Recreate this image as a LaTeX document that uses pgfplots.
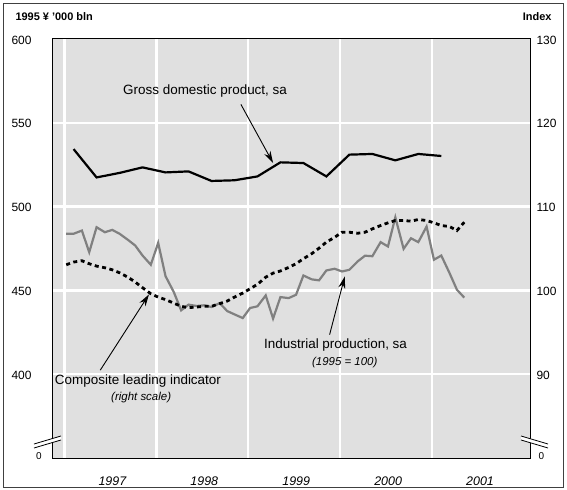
\documentclass[border=0pt]{standalone}
\usepackage{pgfplots}
\pgfplotsset{compat=1.18}
\usepackage{pgfplotstable}
\usetikzlibrary{arrows.meta}
\usepackage{fontspec}
\setmainfont{Liberation Sans}

\definecolor{bg}{RGB}{224,224,224}
\definecolor{ipgray}{RGB}{128,128,128}

% GDP, quarterly, 1995 yen '000 bln
\pgfplotstableread{
x y
1997.10 534.3
1997.35 517.4
1997.60 520.1
1997.85 523.4
1998.10 520.4
1998.35 521.0
1998.60 515.3
1998.85 515.7
1999.10 518.0
1999.35 526.4
1999.60 526.0
1999.85 518.0
2000.10 531.0
2000.35 531.4
2000.60 527.6
2000.85 531.4
2001.10 530.2
}\gdp

% industrial production, monthly (left scale units)
\pgfplotstableread{
x y
1997.02 483.8
1997.10 483.8
1997.19 485.7
1997.27 472.8
1997.35 487.7
1997.44 484.7
1997.52 486.1
1997.60 483.8
1997.69 480.2
1997.77 476.8
1997.85 470.8
1997.94 465.3
1998.02 478.4
1998.10 458.5
1998.19 449.0
1998.27 438.1
1998.35 441.5
1998.44 440.7
1998.52 441.1
1998.60 440.1
1998.69 442.4
1998.77 437.7
1998.85 435.7
1998.94 433.5
1999.02 439.5
1999.10 440.5
1999.19 447.0
1999.27 433.2
1999.35 446.0
1999.44 445.4
1999.52 447.4
1999.60 458.9
1999.69 456.6
1999.77 456.0
1999.85 461.9
1999.94 462.9
2000.02 461.3
2000.10 462.3
2000.19 467.3
2000.27 470.7
2000.35 470.4
2000.44 478.8
2000.52 476.2
2000.60 493.6
2000.69 474.8
2000.77 481.1
2000.85 478.8
2000.94 488.1
2001.02 468.3
2001.10 470.8
2001.19 460.3
2001.27 450.4
2001.35 445.7
}\ip

% composite leading indicator, index (right scale)
\pgfplotstableread{
x y
1997.02 103.06
1997.10 103.38
1997.19 103.54
1997.27 103.18
1997.35 102.90
1997.44 102.70
1997.52 102.46
1997.60 102.10
1997.69 101.58
1997.77 101.00
1997.85 100.32
1997.94 99.60
1998.02 99.20
1998.10 98.90
1998.19 98.48
1998.27 98.10
1998.35 97.94
1998.44 98.02
1998.52 98.10
1998.60 98.10
1998.69 98.42
1998.77 98.72
1998.85 99.20
1998.94 99.68
1999.02 100.20
1999.10 100.72
1999.19 101.58
1999.27 102.06
1999.35 102.32
1999.44 102.74
1999.52 103.18
1999.60 103.78
1999.69 104.38
1999.77 105.04
1999.85 105.76
1999.94 106.34
2000.02 106.94
2000.10 106.94
2000.19 106.82
2000.27 106.94
2000.35 107.34
2000.44 107.74
2000.52 108.06
2000.60 108.34
2000.69 108.34
2000.77 108.26
2000.85 108.46
2000.94 108.34
2001.02 108.06
2001.10 107.74
2001.19 107.62
2001.27 107.14
2001.35 108.14
}\cli

\begin{document}
\begin{tikzpicture}[font=\fontsize{12}{14}\selectfont]
\path (-52bp,-32bp) rectangle (515bp,458bp);
\draw[line width=0.8bp, black!75] (-49bp,-29bp) rectangle (511bp,455bp);

\begin{axis}[
  at={(0,0)}, anchor=south west,
  width=478bp, height=419bp, scale only axis,
  xmin=1996.865, xmax=2002.065, ymin=350, ymax=600,
  axis background/.style={fill=bg},
  axis line style={line width=1bp},
  xtick={1997,...,2001}, xticklabels={},
  extra x ticks={1997.5,1998.5,1999.5,2000.5,2001.5},
  extra x tick labels={1997,1998,1999,2000,2001},
  extra x tick style={grid=none, xticklabel style={font=\fontsize{12.5}{14}\selectfont\itshape, yshift=-15bp, xshift=2bp}},
  ytick={400,450,500,550},
  extra y ticks={600}, extra y tick style={grid=none},
  xmajorgrids, ymajorgrids,
  grid style={white, line width=2.4bp},
  major tick length=0pt,
  yticklabel style={anchor=west, xshift=-44bp, yshift=-1bp},
  /pgf/number format/assume math mode=true,
]
\addplot[black, line width=2.2bp] table {\gdp};
\addplot[ipgray, line width=2.2bp] table {\ip};

\begin{scope}[font=\fontsize{13.5}{15}\selectfont]
\node at (axis cs:1998.53,569) {Gross domestic product, sa};
\draw[line width=0.9bp, -{Stealth[length=12bp,width=7bp]}] (axis cs:1998.92,561) -- (axis cs:1999.27,526);

\node at (axis cs:1997.80,396) {Composite leading indicator};
\node[font=\fontsize{11.5}{13}\selectfont\itshape] at (axis cs:1997.835,386) {(right scale)};
\draw[line width=0.9bp, -{Stealth[length=12bp,width=7bp]}] (axis cs:1997.39,402.4) -- (axis cs:1997.92,447.6);

\node at (axis cs:1999.95,417.5) {Industrial production, sa};
\node[font=\fontsize{11.5}{13}\selectfont\itshape] at (axis cs:2000.05,406.7) {(1995 = 100)};
\draw[line width=0.9bp, -{Stealth[length=12bp,width=7bp]}] (axis cs:1999.885,423.6) -- (axis cs:2000.05,458.3);
\end{scope}
\end{axis}

\begin{axis}[
  at={(0,0)}, anchor=south west,
  width=478bp, height=419bp, scale only axis,
  xmin=1996.865, xmax=2002.065, ymin=80, ymax=130,
  axis y line*=right, axis x line=none,
  axis line style={line width=1bp},
  ytick={90,100,110,120,130},
  major tick length=0pt,
  yticklabel style={anchor=west, xshift=3bp, yshift=-1bp},
  /pgf/number format/assume math mode=true,
]
\addplot[black, line width=2.8bp, dash pattern=on 4bp off 3.5bp] table {\cli};
\end{axis}

% axis breaks
\fill[white] (-18bp,10bp) -- (9bp,18bp) -- (9bp,22bp) -- (-18bp,14bp) -- cycle;
\draw[line width=0.8bp] (-18bp,10bp) -- (9bp,18bp) (-18bp,14bp) -- (9bp,22bp);
\fill[white] (469bp,18bp) -- (496bp,10bp) -- (496bp,14bp) -- (469bp,22bp) -- cycle;
\draw[line width=0.8bp] (469bp,18bp) -- (496bp,10bp) (469bp,22bp) -- (496bp,14bp);
\node[font=\fontsize{10}{12}\selectfont] at (-13bp,2bp) {0};
\node[font=\fontsize{10}{12}\selectfont] at (489.5bp,2bp) {0};

\node[anchor=west, font=\fontsize{11}{13}\selectfont\bfseries] at (-40bp,441bp) {1995 ¥ '000 bln};
\node[anchor=east, font=\fontsize{11}{13}\selectfont\bfseries] at (503bp,441bp) {Index};
\end{tikzpicture}
\end{document}
